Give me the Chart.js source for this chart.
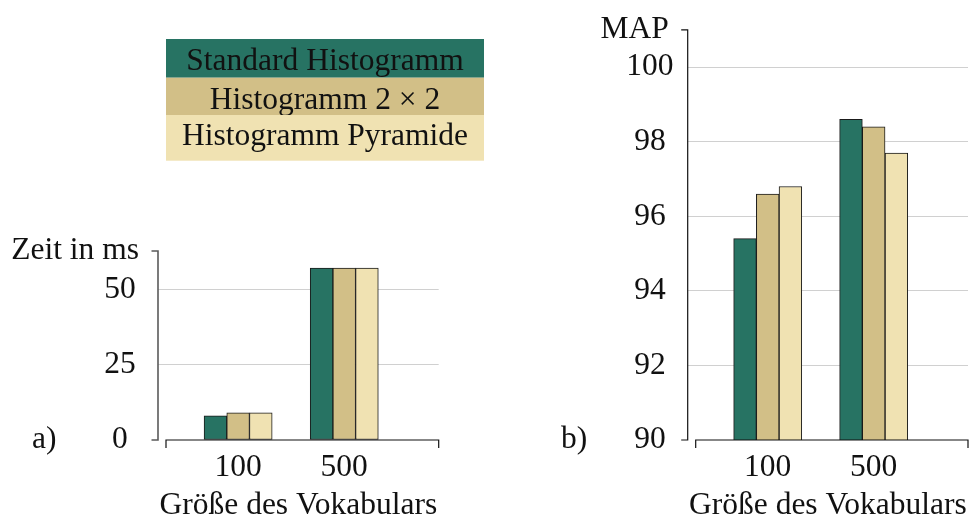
<!DOCTYPE html>
<html>
<head>
<meta charset="utf-8">
<script src="https://cdn.jsdelivr.net/npm/chart.js@4/dist/chart.umd.min.js"></script>
<style>
  html, body { margin: 0; padding: 0; background: #fff; overflow: hidden; }
  #wrap { position: relative; width: 971px; height: 521px; }
  .box { position: absolute; top: 0; height: 521px; }
  #boxA { left: 0; width: 490px; }
  #boxB { left: 490px; width: 481px; }
</style>
</head>
<body>
<div id="wrap">
  <div class="box" id="boxA"><canvas id="chartA"></canvas></div>
  <div class="box" id="boxB"><canvas id="chartB"></canvas></div>
</div>
<script>
// Vocabulary sizes (x categories)
const categories = ['100', '500'];
const seriesNames = ['Standard Histogramm', 'Histogramm 2 \u00d7 2', 'Histogramm Pyramide'];

// a) runtime in ms
const timeStandard = [8, 57];
const time2x2 = [9, 57];
const timePyramid = [9, 57];
const timeTicks = [0, 25, 50];

// b) mean average precision
const mapStandard = [95.4, 98.6];
const map2x2 = [96.6, 98.4];
const mapPyramid = [96.8, 97.7];
const mapTicks = [90, 92, 94, 96, 98, 100];

const seriesColors = ['#277363', '#d2bf87', '#f0e2b2'];
const FONT_FAMILY = '"Liberation Serif", "Times New Roman", serif';
const FONT_SIZE = 31.5;
const FONT = FONT_SIZE + 'px ' + FONT_FAMILY;
Chart.defaults.font.family = FONT_FAMILY;
Chart.defaults.font.size = FONT_SIZE;
Chart.defaults.font.lineHeight = 1;
Chart.defaults.color = '#111';

function makeDatasets(series) {
  return series.map((vals, k) => ({
    label: seriesNames[k],
    data: vals.map((v, i) => ({ x: i, y: v })),
    backgroundColor: seriesColors[k],
    borderColor: '#1a1a1a',
    borderWidth: 1,
    borderSkipped: false,
    barThickness: 22.7
  }));
}

// Axis lines with end marks, axis name at the top, panel letter
const frame = {
  id: 'frame',
  afterDraw(chart, args, o) {
    const { ctx, chartArea: a } = chart;
    const x0 = a.left, y0 = a.bottom;
    ctx.save();
    ctx.strokeStyle = o.yColor;
    ctx.lineWidth = o.yWidth;
    ctx.beginPath();
    ctx.moveTo(x0 - 6.5, a.top);
    ctx.lineTo(x0, a.top);
    ctx.lineTo(x0, y0);
    ctx.lineTo(x0 - 6.5, y0);
    ctx.stroke();

    ctx.strokeStyle = '#111';
    ctx.lineWidth = 1.2;
    ctx.beginPath();
    ctx.moveTo(x0 + 8, y0 + 8);
    ctx.lineTo(x0 + 8, y0);
    ctx.lineTo(a.right, y0);
    ctx.lineTo(a.right, y0 + 8);
    ctx.stroke();

    ctx.font = FONT;
    ctx.fillStyle = '#111';
    ctx.textBaseline = 'middle';
    ctx.textAlign = 'right';
    ctx.fillText(o.title, x0 - 19, a.top);
    ctx.textAlign = 'left';
    ctx.fillText(o.panel, o.panelX, y0);
    ctx.restore();
  }
};

// Stacked colour-block legend
const blockLegend = {
  id: 'blockLegend',
  afterDraw(chart, args, o) {
    if (!o.show) return;
    const { ctx } = chart;
    ctx.save();
    ctx.font = FONT;
    ctx.textAlign = 'center';
    ctx.textBaseline = 'alphabetic';
    chart.data.datasets.forEach((ds, k) => {
      const r = o.rows[k];
      ctx.fillStyle = ds.backgroundColor;
      ctx.fillRect(o.left, r.top, o.width, r.height);
      ctx.fillStyle = '#111';
      ctx.fillText(ds.label, o.left + o.width / 2, r.baseline);
    });
    ctx.restore();
  }
};

function makeChart(id, series, ticks, yMin, yMax, cfg) {
  return new Chart(document.getElementById(id), {
    type: 'bar',
    data: { datasets: makeDatasets(series) },
    plugins: [frame, blockLegend],
    options: {
      responsive: true,
      maintainAspectRatio: false,
      animation: false,
      layout: { padding: { top: cfg.top, right: cfg.right, bottom: 0, left: 0 } },
      scales: {
        x: {
          type: 'linear',
          offset: false,
          min: -0.755,
          max: 1.89,
          grid: { display: false, drawTicks: false },
          border: { display: false },
          afterBuildTicks: s => { s.ticks = categories.map((c, i) => ({ value: i })); },
          afterFit: s => { s.height = 81; },
          ticks: {
            padding: 11.5,
            maxRotation: 0,
            autoSkip: false,
            callback: v => categories[v]
          },
          title: {
            display: true,
            text: 'Gr\u00f6\u00dfe des Vokabulars',
            padding: { top: 0, bottom: 0 }
          }
        },
        y: {
          type: 'linear',
          min: yMin,
          max: yMax,
          afterBuildTicks: s => { s.ticks = ticks.map(v => ({ value: v })); },
          afterFit: s => { s.width = cfg.axisX; },
          grid: {
            drawTicks: false,
            lineWidth: 1,
            color: c => (c.tick && c.tick.value === yMin) ? 'rgba(0,0,0,0)' : '#d0d0d0'
          },
          border: { display: false },
          ticks: { crossAlign: 'center', padding: cfg.tickPad }
        }
      },
      plugins: {
        legend: { display: false },
        tooltip: { enabled: false },
        frame: cfg.frame,
        blockLegend: cfg.legend
      }
    }
  });
}

makeChart('chartA', [timeStandard, time2x2, timePyramid], timeTicks, 0, 62.7, {
  top: 251, right: 51.3, axisX: 158, tickPad: 22.3,
  frame: { title: 'Zeit in ms', panel: 'a)', panelX: 32, yColor: '#5a5a5a', yWidth: 1.6 },
  legend: {
    show: true, left: 166, width: 318,
    rows: [
      { top: 39, height: 38.7, baseline: 70 },
      { top: 77.7, height: 37.3, baseline: 108.5 },
      { top: 115, height: 45.7, baseline: 145 }
    ]
  }
});

makeChart('chartB', [mapStandard, map2x2, mapPyramid], mapTicks, 90, 101, {
  top: 24.3, right: 3, axisX: 197.7, tickPad: 14.2,
  frame: { title: 'MAP', panel: 'b)', panelX: 71, yColor: '#111', yWidth: 1.2 },
  legend: { show: false }
});
</script>
</body>
</html>
